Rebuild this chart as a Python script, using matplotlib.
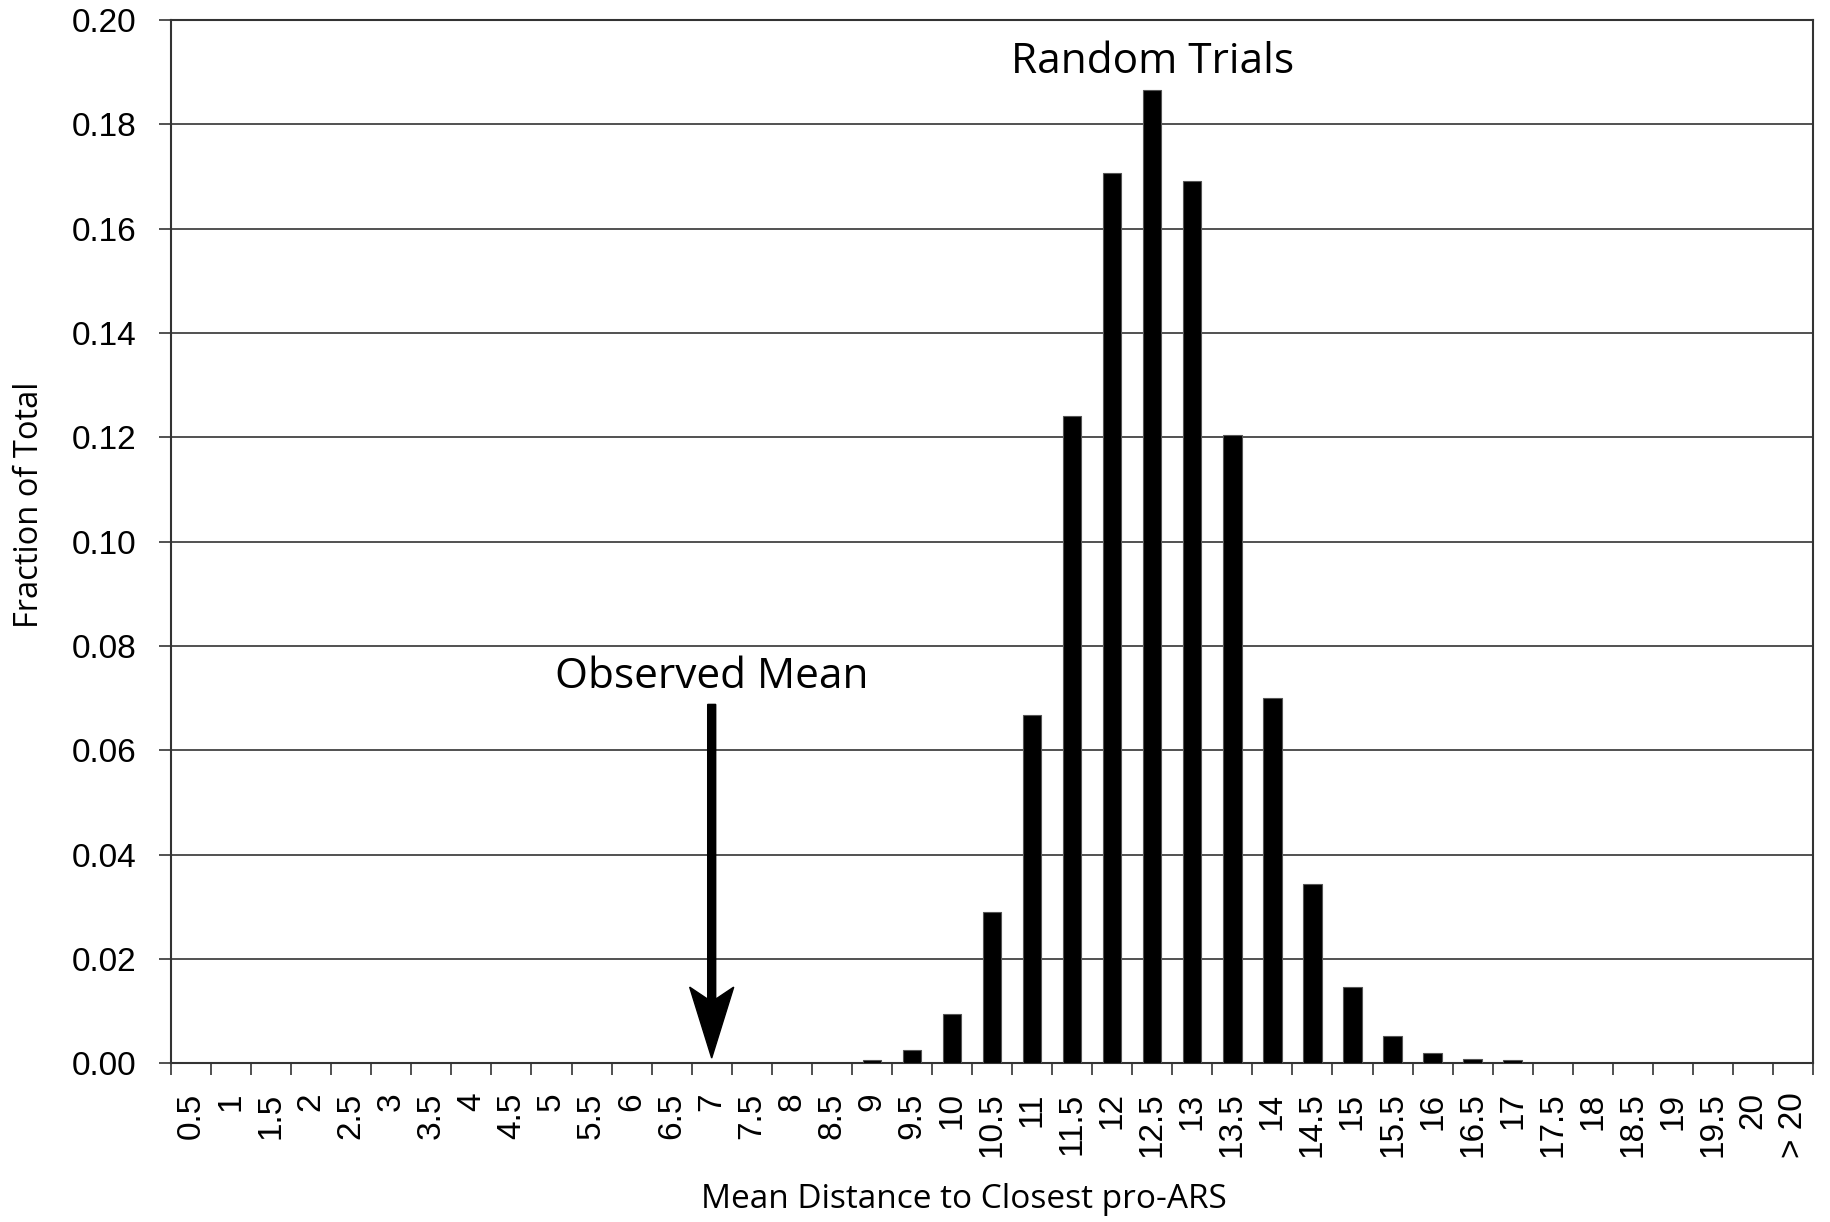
import matplotlib
matplotlib.use('Agg')
import matplotlib.pyplot as plt

# bin labels along the x axis
bins = ['0.5', '1', '1.5', '2', '2.5', '3', '3.5', '4', '4.5', '5', '5.5', '6',
        '6.5', '7', '7.5', '8', '8.5', '9', '9.5', '10', '10.5', '11', '11.5',
        '12', '12.5', '13', '13.5', '14', '14.5', '15', '15.5', '16', '16.5',
        '17', '17.5', '18', '18.5', '19', '19.5', '20', '> 20']

# fraction of random trials in each bin
fraction = [0, 0, 0, 0, 0, 0, 0, 0, 0, 0, 0, 0,
            0, 0, 0, 0, 0, 0.0006, 0.0025, 0.0094, 0.0290, 0.0667, 0.1241,
            0.1707, 0.1865, 0.1692, 0.1205, 0.0701, 0.0343, 0.0147, 0.0052, 0.0020, 0.0008,
            0.0006, 0, 0, 0, 0, 0, 0, 0]

observed_bin = '7'
observed_top = 0.0688

yticks = [0.00, 0.02, 0.04, 0.06, 0.08, 0.10, 0.12, 0.14, 0.16, 0.18, 0.20]

label_font = 'Open Sans'
tick_font = 'Liberation Sans'

fig = plt.figure(figsize=(18.31, 12.22), dpi=100)
ax = fig.add_axes([0.0934, 0.1299, 0.8968, 0.8537])

x = list(range(len(bins)))
ax.bar(x, fraction, width=0.46, color='black', edgecolor='#555555', linewidth=0.8, zorder=3)

ax.set_xlim(-0.5, len(bins) - 0.5)
ax.set_ylim(0, 0.20)

# gridlines + y ticks
ax.set_yticks(yticks)
ax.set_yticklabels(['%.2f' % v for v in yticks], fontfamily=tick_font, fontsize=24)
ax.yaxis.grid(True, color='#333333', linewidth=1.2, zorder=0)
ax.tick_params(axis='y', length=8.6, width=1.2, pad=16, color='#333333')

# category labels in the middle, tick marks between categories
ax.set_xticks(x)
ax.set_xticklabels(bins, rotation=90, fontfamily=tick_font, fontsize=24)
ax.tick_params(axis='x', which='major', length=0, pad=21)
ax.set_xticks([i - 0.5 for i in range(len(bins) + 1)], minor=True)
ax.tick_params(axis='x', which='minor', length=8.6, width=1.2, color='#333333')

for s in ax.spines.values():
    s.set_color('#333333')
    s.set_linewidth(1.5)
ax.set_axisbelow(True)

fig.text(0.016, 0.587, 'Fraction of Total', fontfamily=label_font, fontsize=23.5,
         rotation=90, ha='center', va='center')
fig.text(964 / 1831, 1 - 1199 / 1222, 'Mean Distance to Closest pro-ARS',
         fontfamily=label_font, fontsize=24, ha='center', va='center')

# observed mean arrow (swept-back head)
xo = bins.index(observed_bin)
ax.arrow(xo, observed_top, 0, 0.001 - observed_top, width=0.2, head_width=1.1,
         head_length=0.0136, overhang=0.17, length_includes_head=True,
         color='black', zorder=5)
ax.text(xo, 0.072, 'Observed Mean', fontfamily=label_font,
        fontsize=30.5, ha='center', va='baseline')

xr = bins.index('12.5')
ax.text(xr, 0.1899, 'Random Trials', fontfamily=label_font,
        fontsize=30.5, ha='center', va='baseline')

fig.savefig('out.png', dpi=100)
